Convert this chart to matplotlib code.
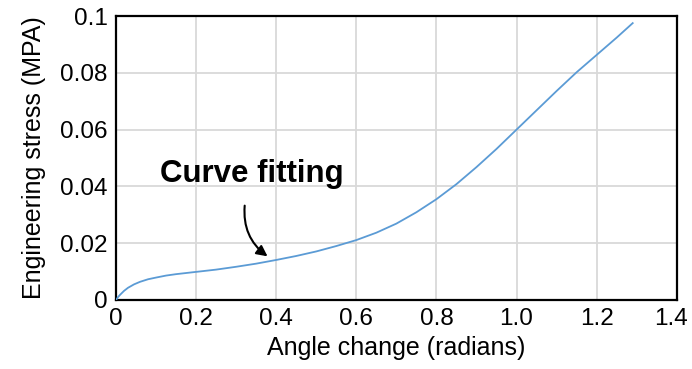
import matplotlib
matplotlib.use("Agg")
from matplotlib import pyplot as plt
from matplotlib.transforms import ScaledTranslation

# values
angle = [0, 0.005, 0.01, 0.02, 0.03, 0.045, 0.06, 0.08, 0.1, 0.125, 0.15, 0.175,
         0.2, 0.25, 0.3, 0.35, 0.4, 0.45, 0.5, 0.55, 0.6, 0.65, 0.7, 0.75,
         0.8, 0.85, 0.9, 0.95, 1.0, 1.05, 1.1, 1.15, 1.2, 1.25, 1.29]
stress = [0, 0.0010, 0.0018, 0.0032, 0.0043, 0.0055, 0.0064, 0.0073, 0.0079, 0.0086,
          0.0091, 0.0095, 0.0099, 0.0107, 0.0117, 0.0128, 0.0141, 0.0155, 0.0171,
          0.0190, 0.0211, 0.0237, 0.0269, 0.0309, 0.0355, 0.0408, 0.0468, 0.0532,
          0.0600, 0.0668, 0.0736, 0.0802, 0.0863, 0.0924, 0.0975]

x_ticks = [0, 0.2, 0.4, 0.6, 0.8, 1.0, 1.2, 1.4]
x_labels = ["0", "0.2", "0.4", "0.6", "0.8", "1.0", "1.2", "1.4"]
y_ticks = [0, 0.02, 0.04, 0.06, 0.08, 0.1]
y_labels = ["0", "0.02", "0.04", "0.06", "0.08", "0.1"]

plt.rcParams['font.family'] = ['Liberation Sans', 'DejaVu Sans']

fig = plt.figure(figsize=(6.92, 3.69), dpi=100)
ax = fig.add_axes([0.1676, 0.187, 0.8104, 0.7696])

ax.plot(angle, stress, c='#5b9bd5', lw=1.3, zorder=3)

ax.set_xlim(0, 1.4)
ax.set_ylim(0, 0.1)
ax.set_xticks(x_ticks)
ax.set_xticklabels(x_labels)
ax.set_yticks(y_ticks)
ax.set_yticklabels(y_labels)
ax.tick_params(axis='both', length=0, pad=6, labelsize=17.5)
# last x label sits on the figure edge, nudge it in a few pixels
last = ax.get_xticklabels()[-1]
last.set_transform(last.get_transform() + ScaledTranslation(-4 / 72, 0, fig.dpi_scale_trans))
ax.grid(True, color='#d9d9d9', lw=1.3)
ax.set_axisbelow(True)
for s in ax.spines.values():
    s.set_linewidth(1.6)
    s.set_color('black')

ax.set_xlabel("Angle change (radians)", fontsize=18, labelpad=4)
ax.set_ylabel("Engineering stress (MPA)", fontsize=18, labelpad=10)

# annotation with curved arrow
ax.text(0.338, 0.0445, "Curve fitting", fontsize=22.5, fontweight='bold',
        ha='center', va='center')
ax.annotate("", xy=(0.384, 0.0148), xytext=(0.322, 0.0342),
            arrowprops=dict(arrowstyle='-|>', color='black', lw=1.5,
                            mutation_scale=16,
                            connectionstyle='arc3,rad=0.3'))

fig.savefig("out.png", dpi=100)
